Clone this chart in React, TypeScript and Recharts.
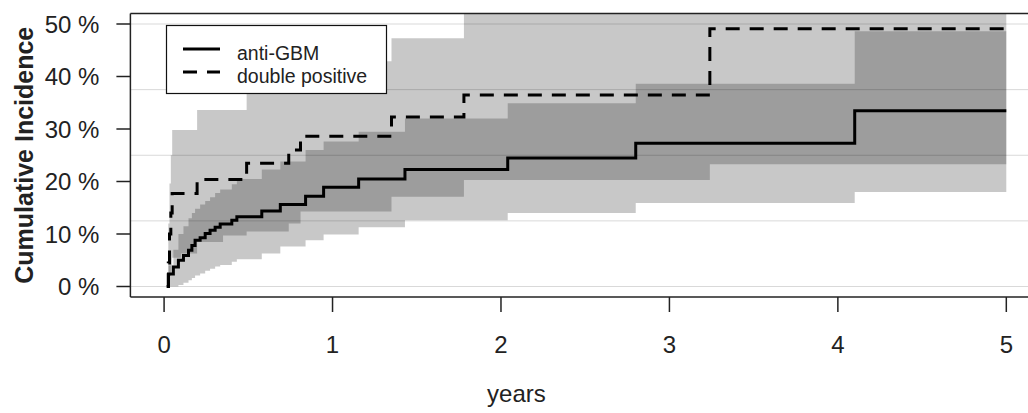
import React from 'react';
import {
  ComposedChart,
  Area,
  Line,
  XAxis,
  YAxis,
  CartesianGrid,
  ReferenceLine,
  Label
} from 'recharts';

// anti-GBM: event times (years), cumulative incidence and confidence band (%)
const agTime = [0.015, 0.026, 0.055, 0.085, 0.115, 0.145, 0.165, 0.184, 0.214, 0.244, 0.273, 0.303, 0.333, 0.402, 0.432, 0.58, 0.69, 0.84, 0.947, 1.155, 1.43, 2.04, 2.8, 4.1];
const agEst = [0, 2.4, 3.7, 5.0, 5.9, 6.9, 7.8, 8.8, 9.3, 10.1, 10.7, 11.3, 11.9, 12.6, 13.3, 14.4, 15.6, 17.2, 18.9, 20.5, 22.3, 24.5, 27.3, 33.5];
const agLower = [0, 0, 0, 0.3, 0.7, 1.2, 1.6, 2.1, 2.5, 3.0, 3.4, 3.8, 4.1, 4.7, 5.2, 6.3, 7.6, 8.8, 9.9, 11.3, 12.6, 14.0, 15.9, 18.0];
const agUpper = [0, 4, 7, 10, 11.5, 13, 14, 14.8, 15.6, 16.3, 17, 17.8, 18.5, 19.5, 20.5, 22.3, 23.8, 26, 27.6, 29.5, 32, 34.9, 38.6, 48.6];

// double positive
const dpTime = [0.02, 0.025, 0.032, 0.04, 0.048, 0.196, 0.49, 0.74, 0.81, 1.35, 1.78, 3.24];
const dpEst = [0, 4.5, 10, 14, 17.7, 20.4, 23.5, 26, 28.6, 32.3, 36.5, 49.1];
const dpBandTime = [0.02, 0.025, 0.032, 0.04, 0.048, 0.1, 0.196, 0.35, 0.49, 0.74, 0.81, 1.35, 1.78, 3.24];
const dpLower = [0, 0.5, 2, 4, 5.5, 6.3, 8.5, 9.7, 10.5, 12, 14.3, 17.1, 20.3, 23.3];
const dpUpper = [0, 12, 19.6, 25, 29.8, 29.8, 33.6, 33.6, 38, 40, 42.9, 47.3, 52, 52];

const END_TIME = 5;
const xTicks = [0, 1, 2, 3, 4, 5];
const yTicks = [0, 10, 20, 30, 40, 50];
const gridValues = [0, 12.5, 25, 37.5, 50];

const FONT = '"Liberation Sans", Arial, sans-serif';

// step data, held to the end of follow-up
const lineRows = (time: number[], est: number[]) => [
  ...time.map((t, i) => ({ t, v: est[i] })),
  { t: END_TIME, v: est[est.length - 1] }
];
const bandRows = (time: number[], lo: number[], hi: number[]) => [
  ...time.map((t, i) => ({ t, lo: lo[i], hi: hi[i] })),
  { t: END_TIME, lo: lo[lo.length - 1], hi: hi[hi.length - 1] }
];

const agLine = lineRows(agTime, agEst);
const dpLine = lineRows(dpTime, dpEst);
const agBand = bandRows(agTime, agLower, agUpper);
const dpBand = bandRows(dpBandTime, dpLower, dpUpper);

const YTitle = ({ viewBox }: any) => {
  const { x, y, height } = viewBox;
  const cx = x + 33;
  const cy = y + height / 2;
  return (
    <text x={cx} y={cy} transform={`rotate(-90, ${cx}, ${cy})`} textAnchor="middle"
      fontSize={25} fontWeight="bold" fill="#222" fontFamily={FONT}>
      Cumulative Incidence
    </text>
  );
};

const XTitle = ({ viewBox }: any) => {
  const { x, y } = viewBox;
  return (
    <text x={x + 386} y={y + 105} textAnchor="middle" fontSize={24} fill="#222" fontFamily={FONT}>
      years
    </text>
  );
};

const LegendBox = () => (
  <svg width={1028} height={413} style={{ position: 'absolute', left: 0, top: 0, pointerEvents: 'none' }}>
    <rect x={166.5} y={25.5} width={220} height={68} fill="#fff" stroke="#111" strokeWidth={1.2} />
    <line x1={183} x2={220} y1={49} y2={49} stroke="#000" strokeWidth={3} />
    <line x1={183} x2={220} y1={72} y2={72} stroke="#000" strokeWidth={3} strokeDasharray="14 10" />
    <text x={237} y={60} fontSize={19.5} fill="#222" fontFamily={FONT}>anti-GBM</text>
    <text x={237} y={82.5} fontSize={19.5} fill="#222" fontFamily={FONT}>double positive</text>
  </svg>
);

export default function App() {
  return (
    <div style={{ position: 'absolute', left: 0, top: 0, width: 1028, height: 413, overflow: 'hidden', background: '#fff' }}>
      <ComposedChart
        width={1050}
        height={413}
        margin={{ top: 13.5, right: 10, left: 0, bottom: 0 }}
        style={{ fontFamily: FONT }}
      >
        <CartesianGrid vertical={false} horizontalValues={gridValues} stroke="#d9d9d9" strokeWidth={1} />
        <XAxis
          type="number"
          dataKey="t"
          domain={[-0.2, 5.2]}
          ticks={xTicks}
          interval={0}
          allowDataOverflow
          height={116}
          tickSize={15}
          tickMargin={24}
          stroke="#222"
          strokeWidth={1.5}
          tick={{ fontSize: 24, fill: '#222', fontFamily: FONT }}
        >
          <Label content={XTitle} />
        </XAxis>
        <YAxis
          type="number"
          domain={[-2, 52]}
          ticks={yTicks}
          interval={0}
          allowDataOverflow
          width={130.4}
          tickSize={14}
          tickMargin={17}
          stroke="#222"
          strokeWidth={1.5}
          tickFormatter={(v: number) => `${v} %`}
          tick={{ fontSize: 24, fill: '#222', fontFamily: FONT }}
        >
          <Label content={YTitle} />
        </YAxis>
        <Area
          data={agBand}
          dataKey={(d: any) => [d.lo, d.hi]}
          type="stepAfter"
          stroke="none"
          fill="#000"
          fillOpacity={0.215}
          isAnimationActive={false}
        />
        <Area
          data={dpBand}
          dataKey={(d: any) => [d.lo, d.hi]}
          type="stepAfter"
          stroke="none"
          fill="#000"
          fillOpacity={0.215}
          isAnimationActive={false}
        />
        <Line
          data={agLine}
          dataKey="v"
          type="stepAfter"
          stroke="#000"
          strokeWidth={3}
          dot={false}
          isAnimationActive={false}
        />
        <Line
          data={dpLine}
          dataKey="v"
          type="stepAfter"
          stroke="#000"
          strokeWidth={3}
          strokeDasharray="14 10"
          dot={false}
          isAnimationActive={false}
        />
        <ReferenceLine y={52} stroke="#222" strokeWidth={1.5} />
      </ComposedChart>
      <LegendBox />
    </div>
  );
}
